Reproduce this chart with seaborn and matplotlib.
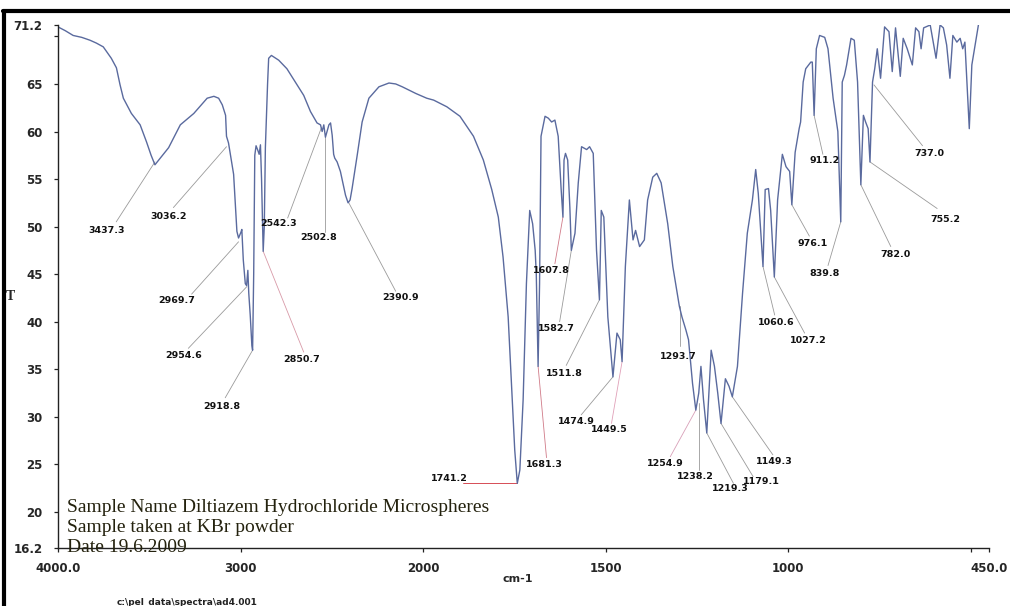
import numpy as np
import pandas as pd
import matplotlib
matplotlib.use("Agg")
import matplotlib.pyplot as plt
from matplotlib.lines import Line2D
import seaborn as sns

# ---------------- data ----------------
wavenumber = [4000, 3960, 3917, 3870, 3825, 3790, 3752, 3708, 3680, 3660, 3642, 3598, 3550, 3515,
              3490, 3469, 3440, 3394, 3330, 3256, 3183, 3146, 3120, 3100, 3082, 3077, 3066, 3038,
              3029, 3020, 3011, 2998, 2993, 2985, 2974, 2967, 2960, 2955, 2947, 2938, 2934, 2928,
              2922, 2915, 2905, 2898, 2891, 2885, 2876, 2870, 2864, 2852, 2846, 2831, 2791, 2746,
              2700, 2654, 2617, 2581, 2562, 2553, 2544, 2535, 2516, 2507, 2498, 2490, 2484, 2471,
              2453, 2425, 2411, 2400, 2389, 2361, 2334, 2297, 2242, 2187, 2150, 2114, 2040, 1990,
              1971, 1935, 1899, 1862, 1835, 1812, 1794, 1781, 1767, 1758, 1749, 1742, 1735, 1726,
              1717, 1708, 1700, 1693, 1690, 1685, 1681, 1677, 1666, 1657, 1648, 1639, 1630, 1622,
              1617, 1614, 1610, 1604, 1598, 1594, 1584, 1575, 1566, 1552, 1544, 1534, 1525, 1517,
              1512, 1505, 1494, 1480, 1469, 1460, 1455, 1446, 1435, 1425, 1418, 1407, 1394, 1385,
              1371, 1360, 1348, 1330, 1316, 1298, 1291, 1280, 1273, 1262, 1253, 1245, 1239, 1232,
              1223, 1211, 1202, 1193, 1184, 1172, 1162, 1153, 1139, 1125, 1112, 1098, 1089, 1082,
              1069, 1063, 1054, 1048, 1038, 1029, 1016, 1006, 996, 990, 981, 970, 966, 959, 952,
              938, 934, 929, 923, 914, 900, 891, 877, 864, 856, 852, 846, 840, 828, 819, 810, 801,
              794, 788, 781, 776, 769, 763, 756, 747, 736, 724, 715, 706, 693, 685, 674, 660, 651,
              642, 636, 629, 611, 595, 584, 575, 566, 557, 549, 538, 529, 522, 516, 504, 497, 488, 479]
transmittance = [71.0, 70.6, 70.1, 69.9, 69.6, 69.3, 68.9, 67.7, 66.7, 64.9, 63.5, 61.9, 60.7, 58.9,
                 57.5, 56.5, 57.2, 58.3, 60.7, 61.9, 63.5, 63.7, 63.5, 62.8, 61.7, 59.5, 58.8, 55.5,
                 52.4, 49.5, 48.8, 49.4, 49.7, 46.5, 44.0, 43.8, 45.4, 43.0, 40.7, 37.5, 37.0, 45.0,
                 57.5, 58.5, 58.0, 57.6, 58.6, 55.0, 47.4, 50.0, 58.3, 65.0, 67.7, 68.0, 67.5, 66.6,
                 65.2, 63.8, 62.1, 60.9, 60.7, 60.0, 60.7, 59.4, 60.7, 60.9, 59.6, 57.6, 57.2, 56.8,
                 55.8, 53.3, 52.5, 52.8, 54.0, 57.5, 61.0, 63.5, 64.7, 65.1, 65.0, 64.7, 64.0, 63.5,
                 63.3, 62.6, 61.6, 59.5, 57.0, 53.9, 51.0, 46.8, 40.5, 33.5, 26.5, 23.0, 24.4, 31.8,
                 44.0, 51.7, 50.3, 47.5, 45.0, 35.3, 44.0, 59.5, 61.6, 61.4, 61.0, 61.2, 59.5, 54.0,
                 51.0, 57.0, 57.7, 57.0, 52.0, 47.5, 49.3, 54.6, 58.4, 58.1, 58.4, 57.7, 47.5, 42.3,
                 51.7, 51.0, 40.5, 34.2, 38.8, 38.1, 35.8, 45.8, 52.8, 48.6, 49.6, 47.9, 48.6, 52.8,
                 55.2, 55.6, 54.6, 50.3, 45.8, 41.6, 40.5, 39.1, 38.1, 33.5, 30.7, 32.5, 35.3, 31.8,
                 28.3, 37.0, 35.3, 32.5, 29.3, 34.0, 33.2, 32.1, 35.3, 43.0, 49.3, 52.8, 56.0, 53.5,
                 45.8, 53.9, 54.0, 51.7, 44.7, 52.8, 57.6, 56.3, 55.8, 52.3, 57.8, 60.3, 61.0, 65.2, 66.6,
                 67.3, 67.3, 61.7, 68.7, 70.1, 69.9, 68.7, 63.5, 60.0, 50.5, 65.2, 65.9, 67.0, 69.8, 69.6, 65.2, 54.4,
                 61.7, 61.0, 60.3, 56.8, 65.2, 66.6, 68.7, 65.6, 71.0, 70.5, 66.3, 70.9, 65.8, 69.8, 68.7, 67.0, 70.9,
                 70.5, 68.7, 70.9, 71.2, 67.7, 71.2, 70.9, 69.1, 65.6, 70.1, 69.4, 69.8, 68.7, 69.4, 60.3, 67.0, 69.1, 71.2]

peak_labels = ["3437.3", "3036.2", "2969.7", "2954.6", "2918.8", "2850.7", "2542.3", "2502.8",
               "2390.9", "1741.2", "1681.3", "1607.8", "1582.7", "1511.8", "1474.9", "1449.5",
               "1293.7", "1254.9", "1238.2", "1219.3", "1179.1", "1149.3", "1060.6", "1027.2",
               "976.1", "911.2", "839.8", "782.0", "755.2", "737.0"]
peak_wn = [3469, 3077, 3011, 2965, 2934, 2876, 2557, 2535, 2407, 1742, 1685, 1617, 1594, 1517,
           1480, 1455, 1297, 1253, 1244, 1223, 1184, 1153, 1069, 1038, 990, 929, 856, 801, 776, 765]
peak_t = [56.8, 58.4, 48.4, 43.7, 37.0, 47.4, 60.4, 59.6, 52.5, 23.0, 35.3, 51.0, 47.5, 42.3,
          34.2, 35.8, 41.6, 30.7, 31.5, 28.3, 29.3, 32.1, 45.8, 44.7, 52.3, 61.7, 50.5, 54.4, 56.8, 64.9]

y_ticks = [16.2, 20, 25, 30, 35, 40, 45, 50, 55, 60, 65, 70, 71.2]
y_tick_labels = ["16.2", "20", "25", "30", "35", "40", "45", "50", "55", "60", "65", "", "71.2"]
x_ticks = [4000, 3000, 2000, 1500, 1000, 500, 450]
x_tick_labels = ["4000.0", "3000", "2000", "1500", "1000", "", "450.0"]

info_lines = ["Sample Name Diltiazem Hydrochloride Microspheres",
              "Sample taken at KBr powder",
              "Date 19.6.2009"]

# ---------------- layout of label leaders (line end, text centre) ----------------
leader_end = [(3681, 50.5), (3368, 52.0), (3268, 42.9), (3286, 37.2), (3084, 32.0), (2654, 36.8),
              (2742, 50.9), (2535, 49.4), (2150, 43.2), (1891, 23.0), (1662, 25.7), (1639, 46.1),
              (1626, 40.0), (1608, 35.4), (1567, 30.2), (1484, 29.3), (1297, 37.4), (1323, 25.8),
              (1244, 24.4), (1150, 23.0), (1096, 23.7), (1042, 26.0), (1037, 40.7), (955, 38.8),
              (942, 49.0), (905, 57.6), (891, 45.9), (719, 47.9), (592, 51.9), (632, 58.5)]
text_pos = [(3736, 49.6), (3396, 51.1), (3350, 42.2), (3313, 36.4), (3103, 31.1), (2663, 36.0),
            (2791, 50.3), (2571, 48.9), (2123, 42.5), (1927, 23.5), (1667, 25.0), (1649, 45.4),
            (1635, 39.3), (1612, 34.6), (1580, 29.5), (1489, 28.7), (1302, 36.3), (1336, 25.1),
            (1255, 23.7), (1159, 22.5), (1073, 23.2), (1037, 25.3), (1032, 39.9), (946, 38.0),
            (933, 48.2), (900, 56.9), (900, 45.1), (705, 47.1), (569, 50.7), (614, 57.7)]
leader_color = {"1741.2": "#d0303a", "2850.7": "#d89aa8", "1681.3": "#d07a88",
                "1607.8": "#d07a88", "1449.5": "#e0a0b8", "1254.9": "#d8a0b8"}

# ---------------- figure ----------------
sns.set_style("ticks")
plt.rcParams["font.family"] = ["DejaVu Sans"]

fig = plt.figure(figsize=(10.10, 6.06), dpi=100)
ax = fig.add_axes([58 / 1010, 1 - 548 / 606, (989 - 58) / 1010, (548 - 25) / 606])


def fwd(x):
    x = np.asarray(x, dtype=float)
    return np.where(x >= 2000, x, 2 * x - 2000)


def inv(y):
    y = np.asarray(y, dtype=float)
    return np.where(y >= 2000, y, (y + 2000) / 2)


ax.set_xscale("function", functions=(fwd, inv))

df = pd.DataFrame({"wn": wavenumber, "T": transmittance})
sns.lineplot(data=df, x="wn", y="T", sort=False, estimator=None, ax=ax,
             color="#5a6a9e", linewidth=1.0)

ax.set_xlim(4000, 450)
ax.set_ylim(16.2, 71.2)

ax.set_xticks(x_ticks)
ax.set_xticklabels(x_tick_labels)
ax.set_yticks(y_ticks)
ax.set_yticklabels(y_tick_labels)
ax.minorticks_off()
ax.tick_params(axis="both", labelsize=8.5, width=0.9, length=3, color="#222222")
ax.tick_params(axis="x", pad=7)
ax.tick_params(axis="y", pad=8)
for lab in ax.get_xticklabels() + ax.get_yticklabels():
    lab.set_fontweight("bold")
ax.set_xlabel("")
ax.set_ylabel("")
for side in ("top", "right"):
    ax.spines[side].set_visible(False)
for side in ("left", "bottom"):
    ax.spines[side].set_color("#222222")
    ax.spines[side].set_linewidth(1.0)

# peak labels with leader lines
for lab, pw, pt, (ew, et), (tw, tt) in zip(peak_labels, peak_wn, peak_t, leader_end, text_pos):
    ax.plot([pw, ew], [pt, et], color=leader_color.get(lab, "#9a9a9a"), linewidth=0.6, zorder=1)
    ax.text(tw, tt, lab, fontsize=6.8, fontweight="bold", ha="center", va="center",
            color="#111111", zorder=3)

# sample info text
for i, line in enumerate(info_lines):
    fig.text(67 / 1010, 1 - (507 + 20 * i) / 606, line, family="Liberation Serif",
             fontsize=14, color="#24220e", ha="left", va="center")

fig.text(518 / 1010, 1 - 579 / 606, "cm-1", fontsize=8, fontweight="bold", ha="center", va="center")
fig.text(10 / 1010, 1 - 297 / 606, "T", family="Liberation Serif", fontsize=10, fontweight="bold",
         ha="center", va="center")
fig.text(187 / 1010, 1 - 602 / 606, r"c:\pel_data\spectra\ad4.001", fontsize=6.5, fontweight="bold",
         ha="center", va="center", color="#222222")

# scan frame (top and left edges)
fig.add_artist(Line2D([0.003, 1.0], [1 - 11 / 606, 1 - 11 / 606], transform=fig.transFigure,
                      color="black", linewidth=3))
fig.add_artist(Line2D([0.0035, 0.0035], [0.0, 1 - 11 / 606], transform=fig.transFigure,
                      color="black", linewidth=3))

fig.savefig("out.png", dpi=100, facecolor="white")
